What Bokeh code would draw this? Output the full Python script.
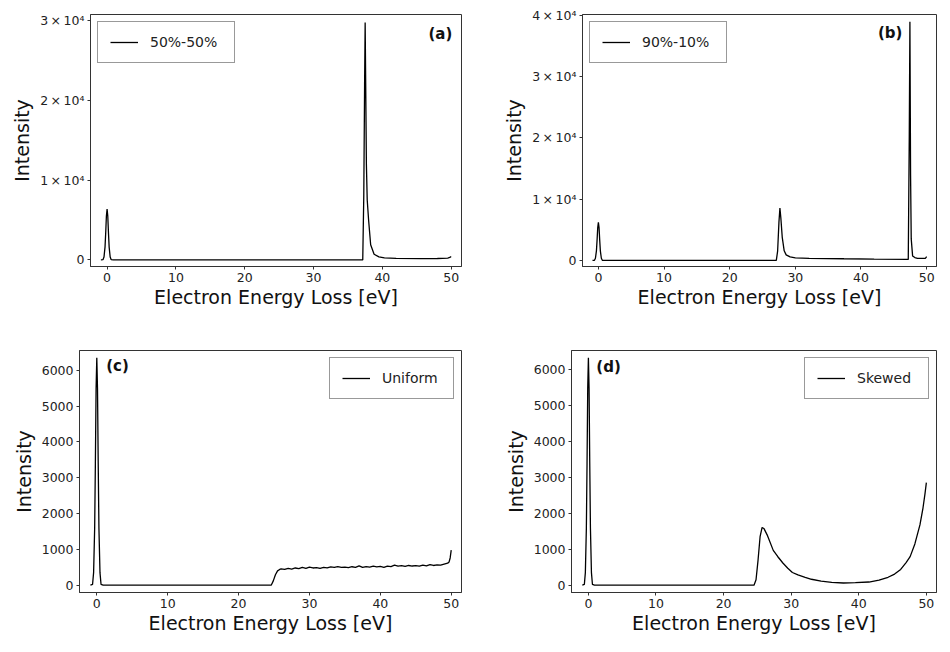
from bokeh.plotting import figure
from bokeh.models import Range1d, FixedTicker, Label
from bokeh.layouts import column, row
from bokeh.embed import file_html
from bokeh.resources import INLINE

# ---------------- data ----------------
zlp_x = [-0.9, -0.6, -0.45, -0.3, -0.2, -0.1, 0.0, 0.1, 0.2, 0.3, 0.45, 0.6, 0.9]

a_x = zlp_x + [1.0, 37.15, 37.3, 37.42, 37.5, 37.58, 37.68, 37.8, 38.0, 38.3, 38.8, 39.5,
               40.3, 42.0, 45.6, 48.0, 49.5, 49.8, 50.0]
a_y = [0, 20, 350, 1600, 3400, 5500, 6380, 5500, 3400, 1600, 350, 20, 0] + \
      [0, 0, 8000, 22000, 29750, 22000, 12000, 7500, 5000, 1900, 700, 380,
       250, 190, 160, 170, 230, 300, 420]

b_x = zlp_x + [1.0, 27.1, 27.3, 27.5, 27.65, 27.8, 28.0, 28.3, 28.6, 29.2, 30.0, 32.1, 37.4,
               42.0, 47.2, 47.35, 47.45, 47.55, 47.65, 47.86, 48.2, 48.6, 49.8, 50.0]
b_y = [0, 20, 340, 1550, 3300, 5350, 6200, 5350, 3300, 1550, 340, 20, 0] + \
      [0, 0, 1500, 6200, 8540, 6800, 3800, 1560, 900, 560, 420, 330, 260,
       200, 150, 20000, 38900, 14000, 3500, 730, 450, 330, 330, 600]

c_x = zlp_x + [1.0, 24.6, 24.9, 25.2, 25.5, 25.8,
               26.0, 26.5, 27.0, 27.5, 28.0, 28.5, 29.0, 29.5, 30.0, 30.5,
               31.0, 31.5, 32.0, 32.5, 33.0, 33.5, 34.0, 34.5, 35.0, 35.5,
               36.0, 36.5, 37.0, 37.5, 38.0, 38.5, 39.0, 39.5, 40.0, 40.5,
               41.0, 41.5, 42.0, 42.5, 43.0, 43.5, 44.0, 44.5, 45.0, 45.5,
               46.0, 46.5, 47.0, 47.5, 48.0, 48.5, 49.0, 49.5, 49.7, 49.85, 50.0]
c_y = [0, 20, 350, 1600, 3400, 5480, 6350, 5480, 3400, 1600, 350, 20, 0] + \
      [0, 0, 120, 290, 400, 440,
       455, 440, 470, 450, 480, 460, 495, 470, 505, 480,
       490, 470, 500, 485, 510, 495, 520, 500, 505, 490,
       515, 500, 540, 495, 520, 505, 530, 510, 525, 500,
       535, 520, 560, 530, 545, 525, 550, 535, 545, 530,
       560, 540, 575, 550, 565, 560, 590, 615, 650, 760, 980]

d_x = zlp_x + [1.0, 24.5, 24.8, 25.1, 25.4, 25.7, 26.0, 26.5, 27.35, 28.0, 28.77, 29.5,
               30.18, 31.0, 32.07, 33.0, 34.43, 36.0, 37.73, 39.5, 41.5, 43.0,
               44.33, 45.3, 46.2, 47.0, 47.6, 48.3, 49.05, 49.5, 49.8, 50.0]
d_y = [0, 20, 350, 1600, 3400, 5480, 6340, 5480, 3400, 1600, 350, 20, 0] + \
      [0, 0, 150, 700, 1350, 1610, 1570, 1380, 970, 800, 618, 470,
       353, 285, 220, 165, 114, 80, 61, 70, 88, 140,
       220, 310, 440, 630, 796, 1150, 1680, 2150, 2550, 2860]

x_ticks = [0, 10, 20, 30, 40, 50]
a_yticks = [0, 10000, 20000, 30000]
a_ylabels = ["0", "1\u2009\u00d7\u200910\u2074", "2\u2009\u00d7\u200910\u2074", "3\u2009\u00d7\u200910\u2074"]
b_yticks = [0, 10000, 20000, 30000, 40000]
b_ylabels = ["0", "1\u2009\u00d7\u200910\u2074", "2\u2009\u00d7\u200910\u2074",
             "3\u2009\u00d7\u200910\u2074", "4\u2009\u00d7\u200910\u2074"]
cd_yticks = [0, 1000, 2000, 3000, 4000, 5000, 6000]

FONT = "DejaVu Sans"
INK = "#222222"


def panel(xs, ys, legend, leg_loc, tag, tag_x, tag_y, tag_align, xr, yr, yticks,
          ylabels, w, h, bl, br, bt, bb, label_w):
    p = figure(width=w, height=h, output_backend="svg", toolbar_location=None,
               x_range=Range1d(*xr), y_range=Range1d(*yr),
               min_border_left=bl, min_border_right=br, min_border_top=bt,
               min_border_bottom=bb)
    p.line(xs, ys, line_color="black", line_width=1.3, legend_label=legend)
    p.grid.visible = False
    p.outline_line_color = "#333333"
    p.outline_line_width = 1
    p.background_fill_color = "white"
    p.border_fill_color = "white"
    for ax in (p.xaxis[0], p.yaxis[0]):
        ax.axis_line_color = "#333333"
        ax.major_tick_line_color = "#333333"
        ax.major_tick_out = 3
        ax.major_tick_in = 0
        ax.minor_tick_line_color = None
        ax.major_label_text_font = FONT
        ax.major_label_text_font_size = "12.5px"
        ax.major_label_text_color = INK
        ax.axis_label_text_font = FONT
        ax.axis_label_text_font_size = "19px"
        ax.axis_label_text_font_style = "normal"
        ax.axis_label_text_color = "#111111"
        ax.major_label_standoff = 3
    p.xaxis[0].ticker = FixedTicker(ticks=x_ticks)
    p.xaxis[0].axis_label = "Electron Energy Loss [eV]"
    p.xaxis[0].axis_label_standoff = 1
    p.yaxis[0].ticker = FixedTicker(ticks=yticks)
    p.yaxis[0].major_label_overrides = {t: s for t, s in zip(yticks, ylabels)}
    p.yaxis[0].axis_label = "Intensity"
    p.yaxis[0].axis_label_standoff = 4

    lg = p.legend[0]
    lg.location = leg_loc
    lg.margin = 7
    lg.padding = 12
    lg.spacing = 0
    lg.glyph_width = 28
    lg.glyph_height = 14
    lg.label_height = 14
    lg.label_width = label_w
    lg.label_standoff = 12
    lg.label_text_font = FONT
    lg.label_text_font_size = "14px"
    lg.label_text_color = INK
    lg.border_line_color = "#333333"
    lg.border_line_width = 1
    lg.background_fill_alpha = 1.0

    p.add_layout(Label(x=tag_x, y=tag_y, text=tag, text_font=FONT,
                       text_font_size="15px", text_font_style="bold",
                       text_color="#111111", text_align=tag_align,
                       text_baseline="middle"))
    return p


pa = panel(a_x, a_y, "50%-50%", "top_left", "(a)", 50.17, 28360, "right",
           (-2.41, 51.5), (-830, 30760), a_yticks, a_ylabels,
           464, 310, 90, 3, 7, 10, 72)
pb = panel(b_x, b_y, "90%-10%", "top_left", "(b)", 46.3, 37160, "right",
           (-2.42, 51.5), (-1000, 40100), b_yticks, b_ylabels,
           474, 310, 118, 2, 14, 10, 72)
pc = panel(c_x, c_y, "Uniform", "top_right", "(c)", 1.33, 6120, "left",
           (-2.44, 51.45), (-204, 6550), cd_yticks, [str(t) for t in cd_yticks],
           464, 326, 79, 3, 40, 10, 59)
pd = panel(d_x, d_y, "Skewed", "top_right", "(d)", 1.17, 6090, "left",
           (-2.5, 51.5), (-204, 6540), cd_yticks, [str(t) for t in cd_yticks],
           474, 326, 107, 2, 40, 10, 59)

layout = column(row(pa, pb), row(pc, pd))

open("out.html", "w").write(file_html(layout, INLINE))
